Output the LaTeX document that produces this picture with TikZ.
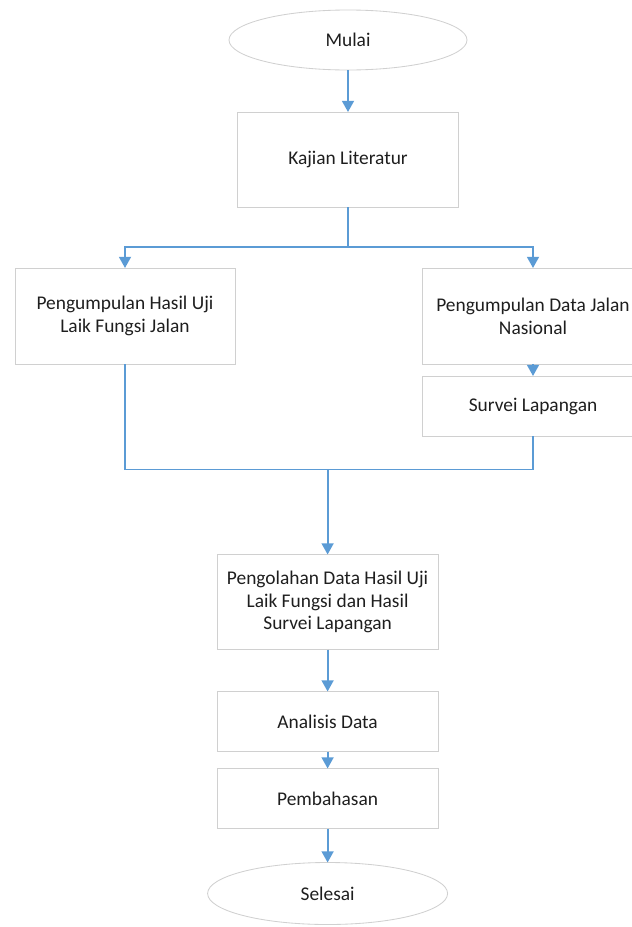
\documentclass[tikz,border=0pt]{standalone}
\usepackage{fontspec}
\setmainfont{Carlito}
\usepackage{tikz}
\usetikzlibrary{shapes.geometric, arrows.meta, positioning}
\definecolor{flowblue}{RGB}{91,155,213}
\definecolor{boxgray}{RGB}{208,208,208}
\definecolor{textgray}{RGB}{30,30,30}
\tikzstyle{terminal} = [ellipse, minimum width=5.95cm, minimum height=1.5cm, draw=boxgray, line width=0.6pt, text=textgray, outer sep=0pt]
\tikzstyle{process} = [rectangle, minimum width=5.525cm, minimum height=2.375cm, align=center, draw=boxgray, line width=0.6pt, text=textgray, outer sep=0pt]
\tikzstyle{line} = [draw=flowblue, line width=1.4pt]
\tikzstyle{arrow} = [line, -{Triangle[length=8pt,width=8.5pt]}]

\begin{document}
\begin{tikzpicture}[font=\fontsize{13.8}{16.3}\selectfont]
    \useasboundingbox (0,0) rectangle (15.8,-23.175);
    % Start and literature
    \node (mulai) [terminal] at (8.7,-1.0) {Mulai};
    \node (kajian) [process, below=1.05cm of mulai] {Kajian Literatur};

    % Two branches
    \node (hasil) [process, minimum width=5.5cm, minimum height=2.4cm] at (3.125,-7.9) {Pengumpulan Hasil Uji\\Laik Fungsi Jalan};
    \node (jalan) [process, minimum width=5.55cm, minimum height=2.4cm] at (13.325,-7.9) {Pengumpulan Data Jalan\\Nasional};
    \node (survei) [process, minimum width=5.55cm, minimum height=1.5cm, below=0.3cm of jalan] {Survei Lapangan};

    % Processing and finish
    \node (olah) [process] at (8.19,-15.05) {Pengolahan Data Hasil Uji\\Laik Fungsi dan Hasil\\Survei Lapangan};
    \node (analisis) [process, minimum height=1.5cm, below=1.05cm of olah] {Analisis Data};
    \node (bahas) [process, minimum height=1.5cm, below=0.425cm of analisis] {Pembahasan};
    \node (selesai) [terminal, minimum width=6cm, minimum height=1.55cm, below=0.85cm of bahas] {Selesai};

    \coordinate[below=1cm of kajian.south] (split);
    \coordinate[above=2.125cm of olah.north] (merge);

    % Arrows
    \draw [arrow] (mulai) -- (kajian);
    \draw [line] (kajian.south) -- (split);
    \draw [arrow] (split) -| (hasil.north);
    \draw [arrow] (split) -| (jalan.north);
    \draw [arrow] (jalan) -- (survei);
    \draw [line] (hasil.south) |- (merge);
    \draw [line] (survei.south) |- (merge);
    \draw [arrow] (merge) -- (olah.north);
    \draw [arrow] (olah) -- (analisis);
    \draw [arrow] (analisis) -- (bahas);
    \draw [arrow] (bahas) -- (selesai);
\end{tikzpicture}
\end{document}
